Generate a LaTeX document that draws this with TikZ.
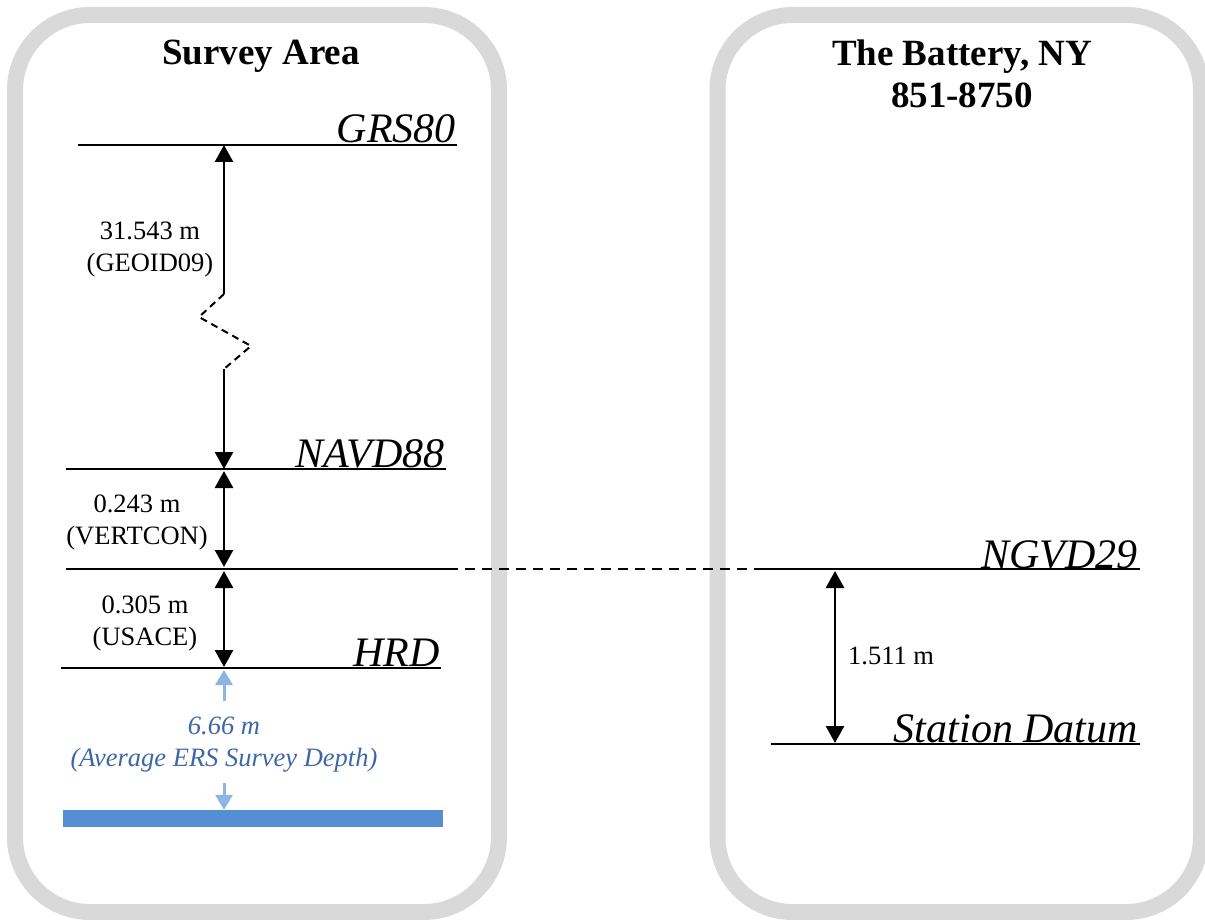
\documentclass[tikz,border=0pt]{standalone}
\usepackage{fontspec}
\setmainfont{Liberation Serif}
\usepackage{tikz}
\usetikzlibrary{positioning,arrows.meta,calc}

\definecolor{framegray}{RGB}{217,217,217}
\definecolor{depthtext}{RGB}{62,104,165}
\definecolor{deptharrowc}{RGB}{142,180,227}
\definecolor{barblue}{RGB}{85,142,213}

\tikzset{
  frame/.style={draw=framegray, line width=16pt, rounded corners=75pt},
  level/.style={line width=2pt},
  lvlname/.style={font=\fontsize{42}{42}\selectfont\itshape, anchor=base east, inner sep=0pt},
  heading/.style={font=\fontsize{37}{42}\selectfont\bfseries, align=center, inner sep=0pt},
  dimlabel/.style={font=\fontsize{26.5}{32}\selectfont, align=center, inner sep=0pt},
  dimarrow/.style={line width=2.8pt, {Triangle[length=17pt,width=18pt]}-{Triangle[length=17pt,width=18pt]}},
  uparrow/.style={line width=2.8pt, {Triangle[length=17pt,width=18pt]}-},
  downarrow/.style={line width=2.8pt, -{Triangle[length=17pt,width=18pt]}},
  deptharrow/.style={draw=deptharrowc, line width=3pt, -{Triangle[length=15pt,width=17pt]}},
}

\begin{document}
\begin{tikzpicture}[x=1pt,y=-1pt]

  \useasboundingbox (0,0) rectangle (1205,920);

  % the two panels
  \draw[frame] (15,15) rectangle (499,912);
  \draw[frame] (717.5,15) rectangle (1201,912);

  \node[heading] (tsurvey) [anchor=base] at (261,65) {Survey Area};
  \node[heading] (tbattery) at (962,73.5) {The Battery, NY\\851-8750};

  % datum levels
  \coordinate (grsL) at (78,145);  \coordinate (grsR) at (457,145);
  \coordinate (navL) at (66,469);  \coordinate (navR) at (446,469);
  \coordinate (ngvL) at (66,569);  \coordinate (ngvM) at (448,569);
  \coordinate (ngvS) at (758,569); \coordinate (ngvR) at (1140,569);
  \coordinate (hrdL) at (61,668);  \coordinate (hrdR) at (441,668);
  \coordinate (staL) at (771,744); \coordinate (staR) at (1140,744);

  \draw[level] (grsL) -- (grsR);
  \draw[level] (navL) -- (navR);
  \draw[level] (ngvL) -- (ngvM);
  \draw[level, dashed, dash pattern=on 10pt off 7pt] (ngvM) -- (ngvS);
  \draw[level] (ngvS) -- (ngvR);
  \draw[level] (hrdL) -- (hrdR);
  \draw[level] (staL) -- (staR);

  \node[lvlname] (ngrs) at ($(grsR)+(-1,-2)$) {GRS80};
  \node[lvlname] (nnav) at ($(navR)+(-1,-2)$) {NAVD88};
  \node[lvlname] (nngv) at ($(ngvR)+(-2,-1)$) {NGVD29};
  \node[lvlname] (nhrd) at ($(hrdR)+(-1,-2)$) {HRD};
  \node[lvlname] (nsta) at ($(staR)+(-2,-2)$) {Station Datum};

  % offsets, survey area
  \coordinate (ax) at (224,0);
  \coordinate (bx) at (835,0);
  \coordinate (brk1) at (224,294);
  \coordinate (brk2) at (199,317);
  \coordinate (brk3) at (251,346);
  \coordinate (brk4) at (224,369);

  \draw[uparrow] (grsL -| ax) -- (brk1);
  \draw[line width=2pt, dashed, dash pattern=on 7pt off 5pt] (brk1) -- (brk2) -- (brk3) -- (brk4);
  \draw[downarrow] (brk4) -- (navL -| ax);
  \draw[dimarrow, shorten <=2pt, shorten >=2pt] (navL -| ax) -- (ngvL -| ax);
  \draw[dimarrow, shorten <=2pt, shorten >=1pt] (ngvL -| ax) -- (hrdL -| ax);

  \node[dimlabel] (lgeoid) at (150,249.5) {31.543 m\\(GEOID09)};
  \node[dimlabel] (lvert) at (137,523) {0.243 m\\(VERTCON)};
  \node[dimlabel] (lusace) at (145,624) {0.305 m\\(USACE)};

  % survey depth
  \node[fill=barblue, minimum width=380pt, minimum height=17pt, inner sep=0pt] (bar) at (253,818.5) {};
  \coordinate (d1) at (224,701);
  \coordinate (d2) at (224,783);
  \draw[deptharrow] (d1) -- ($(hrdL -| ax)+(0,2)$);
  \draw[deptharrow] (d2) -- (bar.north -| ax);
  \node[dimlabel, font=\fontsize{26.5}{32}\selectfont\itshape, text=depthtext] (ldepth) at (224,745) {6.66 m\\(Average ERS Survey Depth)};

  % offset, tide station
  \draw[dimarrow, shorten <=2pt, shorten >=1pt] (ngvR -| bx) -- (staL -| bx);
  \node[dimlabel, anchor=base west] (lsta) at (848,664) {1.511 m};

\end{tikzpicture}
\end{document}
